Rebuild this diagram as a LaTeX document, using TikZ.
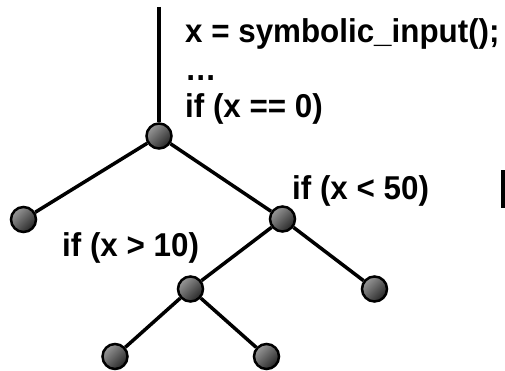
\documentclass[tikz,border=0pt]{standalone}
\usepackage{fontspec}
\setmainfont[FakeStretch=0.95]{Liberation Sans}
\begin{document}
\begin{tikzpicture}[x=1pt,y=-1pt,
  vert/.style={circle,draw=black,line width=2.5pt,minimum size=25pt,inner sep=0pt,
    top color=black!40,bottom color=black!85,shading angle=45},
  edge/.style={line width=3.5pt},
  lbl/.style={anchor=base west,inner sep=0pt,font=\fontsize{33}{40}\selectfont\bfseries}]
\useasboundingbox (0,0) rectangle (505,371);
\coordinate (top) at (159,7);
\node[vert] (r) at (159,136) {};
\node[vert] (l) at (23.5,219.5) {};
\node[vert] (m) at (282.5,219) {};
\node[vert] (n) at (190.5,289) {};
\node[vert] (rr) at (374.5,289) {};
\node[vert] (bl) at (115,356.5) {};
\node[vert] (br) at (266.5,356.5) {};
\draw[edge] (top) -- (r);
\draw[edge] (r) -- (l);
\draw[edge] (r) -- (m);
\draw[edge] (m) -- (n);
\draw[edge] (m) -- (rr);
\draw[edge] (n) -- (bl);
\draw[edge] (n) -- (br);
\node[lbl] (t1) at (185,43) {x = symbolic\_input();};
\node[lbl] (t2) at (185,81) {…};
\node[lbl] (t3) at (185,118) {if (x == 0)};
\node[lbl] (t4) at (292,200) {if (x < 50)};
\node[lbl] (t5) at (62,256.5) {if (x > 10)};
\fill (500.5,170) rectangle (505,208);
\end{tikzpicture}
\end{document}
